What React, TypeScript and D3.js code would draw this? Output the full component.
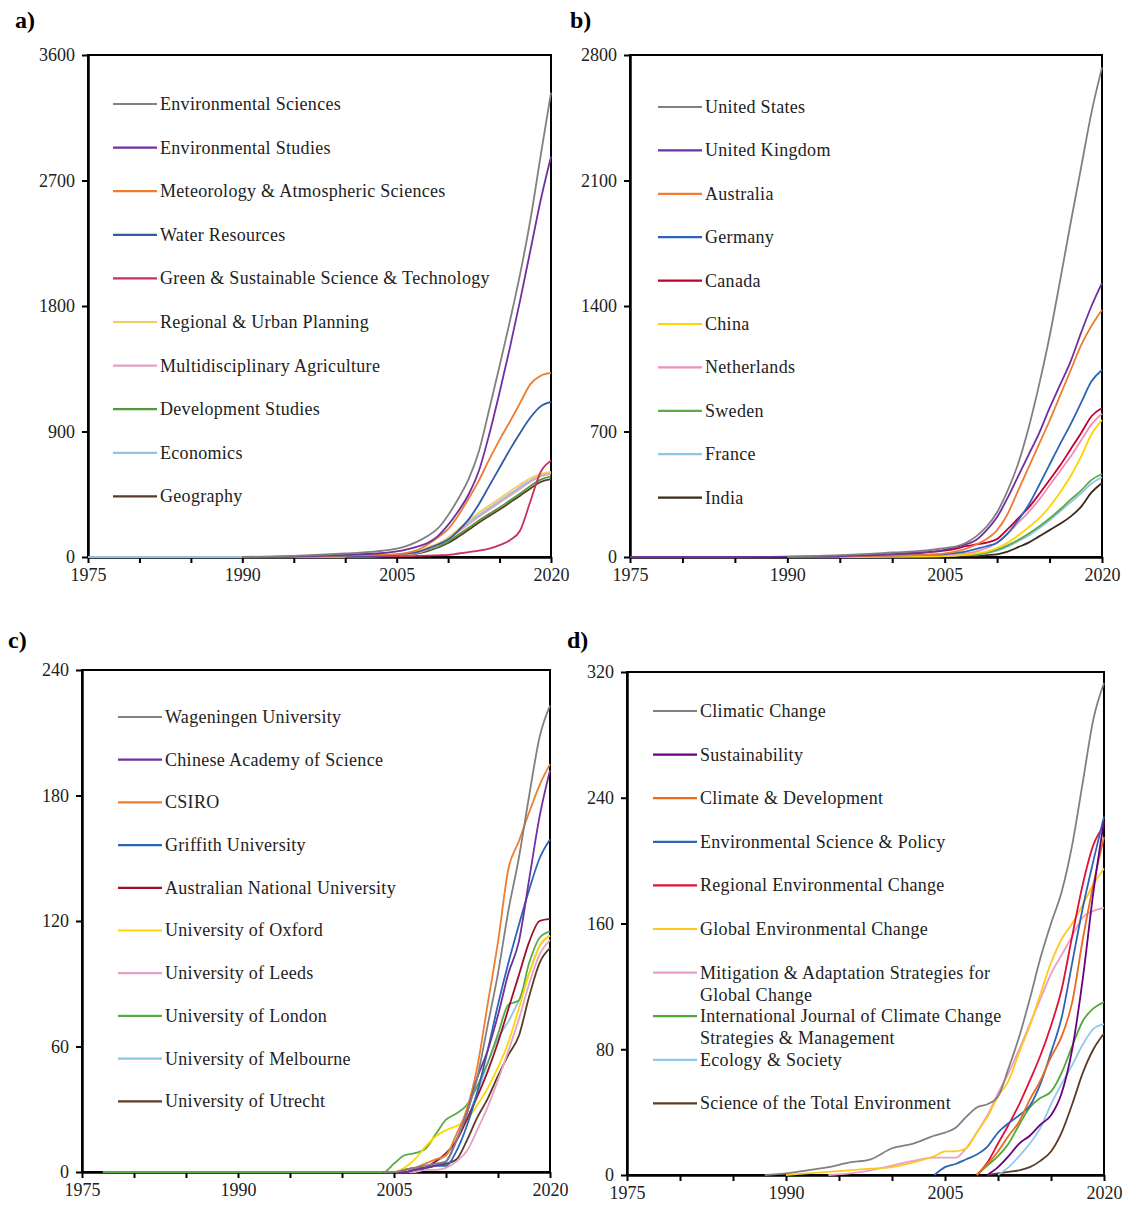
import React, { useEffect, useRef } from "react";
import * as d3 from "d3";

const WIDTH = 1127;
const HEIGHT = 1205;
const FONT = "'Liberation Serif', 'Times New Roman', serif";

// a) subject categories
const yearsA = [1975, 1980, 1985, 1990, 1995, 2000, 2003, 2005, 2006, 2007, 2008, 2009, 2010, 2011, 2012, 2013, 2014, 2015, 2016, 2017, 2018, 2019, 2020];
const namesA = ["Environmental Sciences", "Environmental Studies", "Meteorology & Atmospheric Sciences", "Water Resources", "Green & Sustainable Science & Technology", "Regional & Urban Planning", "Multidisciplinary Agriculture", "Development Studies", "Economics", "Geography"];
const envSciences = [null, null, null, 0, 8, 25, 40, 60, 80, 110, 150, 205, 300, 420, 560, 760, 1060, 1370, 1690, 2030, 2420, 2880, 3330];
const envStudies = [null, null, null, 0, 4, 15, 25, 40, 55, 75, 100, 150, 230, 330, 450, 620, 880, 1180, 1500, 1840, 2200, 2560, 2870];
const meteorology = [null, null, null, 0, 3, 10, 15, 20, 30, 50, 90, 140, 200, 300, 420, 550, 700, 840, 970, 1105, 1240, 1300, 1320];
const waterResources = [null, null, null, 0, 2, 6, 10, 15, 25, 35, 60, 90, 125, 190, 270, 380, 510, 640, 770, 890, 1000, 1080, 1112];
const greenSustainable = [null, null, null, null, null, 0, 2, 4, 6, 8, 10, 12, 15, 25, 35, 45, 60, 85, 120, 190, 400, 610, 690];
const regionalUrban = [null, null, null, null, 0, 3, 6, 10, 20, 40, 70, 95, 140, 200, 260, 320, 370, 420, 470, 520, 565, 595, 610];
const multiAgriculture = [null, null, null, null, 0, 2, 5, 8, 18, 30, 55, 85, 125, 180, 235, 290, 340, 390, 440, 490, 540, 578, 598];
const devStudies = [null, null, null, null, 0, 3, 6, 10, 18, 30, 50, 75, 110, 160, 210, 262, 310, 355, 405, 455, 510, 555, 578];
const economics = [0, 0, 0, 0, 2, 5, 8, 12, 25, 40, 62, 92, 135, 190, 250, 302, 352, 402, 452, 502, 548, 584, 604];
const geography = [null, null, null, null, 0, 2, 5, 8, 15, 25, 42, 68, 100, 145, 195, 248, 295, 340, 390, 440, 492, 538, 558];
const colorsA = ["#808080", "#7030a0", "#ed7d31", "#2e5aa8", "#c8305a", "#f3cd5e", "#e2a2c2", "#4e9a3a", "#92c2e8", "#5b3a26"];

// b) countries
const yearsB = [1975, 1980, 1985, 1990, 1995, 2000, 2003, 2005, 2006, 2007, 2008, 2009, 2010, 2011, 2012, 2013, 2014, 2015, 2016, 2017, 2018, 2019, 2020];
const namesB = ["United States", "United Kingdom", "Australia", "Germany", "Canada", "China", "Netherlands", "Sweden", "France", "India"];
const unitedStates = [null, null, null, 2, 10, 25, 35, 50, 58, 78, 115, 170, 250, 370, 520, 720, 960, 1230, 1540, 1860, 2170, 2480, 2730];
const unitedKingdom = [0, 0, 0, 2, 5, 15, 25, 40, 55, 70, 95, 150, 223, 330, 450, 570, 690, 830, 960, 1090, 1250, 1400, 1528];
const australia = [null, null, null, 0, 3, 8, 12, 20, 30, 45, 70, 100, 150, 240, 370, 500, 630, 760, 900, 1040, 1180, 1290, 1378];
const germany = [null, null, null, 0, 3, 8, 12, 15, 22, 30, 45, 60, 80, 130, 205, 290, 400, 515, 630, 740, 860, 980, 1043];
const canada = [null, null, null, 0, 5, 15, 25, 35, 45, 60, 70, 80, 100, 155, 215, 275, 350, 430, 510, 600, 690, 785, 831];
const china = [null, null, null, null, 0, 2, 3, 5, 8, 12, 20, 30, 50, 80, 120, 165, 215, 280, 360, 450, 560, 685, 764];
const netherlands = [null, null, null, 0, 2, 5, 8, 10, 15, 20, 30, 50, 80, 130, 190, 250, 320, 400, 480, 560, 650, 740, 800];
const sweden = [null, null, null, 0, 2, 3, 4, 5, 8, 12, 15, 25, 40, 65, 95, 130, 170, 215, 265, 320, 370, 430, 463];
const france = [null, null, null, null, 0, 2, 4, 5, 8, 12, 15, 22, 35, 58, 88, 120, 160, 205, 255, 305, 355, 410, 445];
const india = [null, null, null, null, 0, 1, 1, 2, 3, 4, 5, 10, 15, 30, 55, 80, 115, 150, 185, 225, 280, 360, 413];
const colorsB = ["#808080", "#7030a0", "#ed7d31", "#2e64b8", "#c00030", "#ffd200", "#f08cc0", "#5aaa46", "#8cc4ea", "#3c2a1a"];

// c) institutions
const yearsC = [1977, 1990, 2002, 2004, 2005, 2006, 2007, 2008, 2009, 2010, 2011, 2012, 2013, 2014, 2015, 2016, 2017, 2018, 2019, 2020];
const namesC = ["Wageningen University", "Chinese Academy of Science", "CSIRO", "Griffith University", "Australian National University", "University of Oxford", "University of Leeds", "University of London", "University of Melbourne", "University of Utrecht"];
const wageningen = [null, null, null, 0, 0, 1, 2, 3, 4, 5, 15, 28, 45, 70, 95, 125, 150, 180, 208, 223];
const chineseAcademy = [null, null, null, 0, 0, 0, 1, 2, 3, 5, 15, 28, 45, 58, 75, 95, 110, 140, 170, 192];
const csiro = [null, null, null, 0, 0, 1, 2, 4, 6, 8, 18, 30, 50, 80, 110, 145, 158, 172, 185, 195];
const griffith = [null, null, null, 0, 0, 0, 1, 2, 3, 3, 10, 22, 38, 58, 80, 100, 118, 135, 150, 159];
const anu = [null, null, null, 0, 0, 0, 1, 2, 5, 9, 15, 25, 36, 48, 62, 78, 94, 110, 120, 121];
const oxford = [null, null, null, 0, 0, 2, 6, 12, 17, 20, 22, 25, 32, 40, 50, 62, 78, 95, 108, 113];
const leeds = [null, null, null, 0, 0, 0, 0, 1, 1, 2, 5, 10, 20, 31, 44, 58, 73, 90, 104, 111];
const london = [0, 0, 0, 0, 4, 8, 9, 11, 18, 25, 28, 32, 41, 52, 66, 80, 82, 100, 112, 115];
const melbourne = [null, null, 0, 0, 0, 0, 1, 2, 5, 8, 15, 25, 38, 52, 64, 72, 82, 95, 108, 113];
const utrecht = [null, null, null, 0, 0, 1, 2, 2, 3, 4, 6, 15, 26, 35, 46, 56, 65, 84, 100, 107];
const colorsC = ["#808080", "#7030a0", "#ed7d31", "#2e64b8", "#a0102a", "#ffd700", "#e6a2c4", "#5aaa46", "#8cc4ea", "#5b3a26"];

// d) journals
const yearsD = [1988, 1990, 1992, 1994, 1996, 1998, 2000, 2002, 2004, 2005, 2006, 2007, 2008, 2009, 2010, 2011, 2012, 2013, 2014, 2015, 2016, 2017, 2018, 2019, 2020];
const namesD = ["Climatic Change", "Sustainability", "Climate & Development", "Environmental Science & Policy", "Regional Environmental Change", "Global Environmental Change", "Mitigation & Adaptation Strategies for\nGlobal Change", "International Journal of Climate Change\nStrategies & Management", "Ecology & Society", "Science of the Total Environment"];
const climaticChange = [0, 1, 3, 5, 8, 10, 17, 20, 25, 27, 30, 37, 43, 45, 50, 68, 88, 112, 138, 160, 180, 210, 250, 290, 313];
const sustainability = [null, null, null, null, null, null, null, null, null, null, null, null, null, 0, 5, 12, 20, 25, 32, 38, 52, 80, 125, 180, 225];
const climateDevelopment = [null, null, null, null, null, null, null, null, null, null, null, null, 0, 7, 15, 25, 34, 48, 60, 75, 88, 110, 150, 185, 215];
const envSciPolicy = [null, null, null, null, null, null, null, null, 0, 5, 7, 10, 13, 18, 27, 33, 38, 44, 58, 78, 100, 135, 170, 200, 228];
const regionalEnvChange = [null, null, null, null, null, null, null, null, null, null, null, null, 0, 8, 20, 32, 45, 60, 76, 95, 118, 152, 185, 210, 222];
const globalEnvChange = [null, 0, 1, 2, 3, 4, 5, 8, 12, 15, 15, 17, 27, 37, 50, 60, 78, 95, 115, 135, 150, 160, 172, 185, 195];
const mitigationAdaptation = [null, null, null, 0, 1, 3, 6, 9, 11, 11, 11, 17, 27, 38, 52, 65, 80, 96, 112, 128, 140, 152, 164, 168, 170];
const ijccsm = [null, null, null, null, null, null, null, null, null, null, null, null, 0, 6, 12, 20, 32, 43, 49, 53, 65, 82, 98, 106, 110];
const ecologySociety = [null, null, null, null, null, null, null, null, null, null, null, null, null, null, 0, 5, 12, 20, 30, 45, 58, 70, 83, 93, 96];
const scienceTotalEnv = [null, null, null, null, null, null, null, null, null, null, null, null, null, 0, 1, 2, 3, 5, 9, 15, 27, 45, 65, 80, 90];
const colorsD = ["#808080", "#6a0080", "#ed6a1a", "#2e64b8", "#e0103a", "#ffc820", "#e8a0c8", "#4ea83a", "#90c8ea", "#5b3a26"];

const labeledYears = [1975, 1990, 2005, 2020];

const panels = [
  {
    label: "a)", labelX: 15, labelY: 28,
    left: 88, right: 551, top: 55, bottom: 557,
    yTicks: [0, 900, 1800, 2700, 3600],
    years: yearsA, names: namesA, colors: colorsA,
    series: [envSciences, envStudies, meteorology, waterResources, greenSustainable, regionalUrban, multiAgriculture, devStudies, economics, geography],
    legendX: 113, legendY: 104, legendStep: 43.6,
  },
  {
    label: "b)", labelX: 570, labelY: 28,
    left: 630, right: 1102, top: 55, bottom: 557,
    yTicks: [0, 700, 1400, 2100, 2800],
    years: yearsB, names: namesB, colors: colorsB,
    series: [unitedStates, unitedKingdom, australia, germany, canada, china, netherlands, sweden, france, india],
    legendX: 658, legendY: 107, legendStep: 43.4,
  },
  {
    label: "c)", labelX: 8, labelY: 648,
    left: 82, right: 550, top: 670, bottom: 1172,
    yTicks: [0, 60, 120, 180, 240],
    years: yearsC, names: namesC, colors: colorsC,
    series: [wageningen, chineseAcademy, csiro, griffith, anu, oxford, leeds, london, melbourne, utrecht],
    legendX: 118, legendY: 717, legendStep: 42.7,
  },
  {
    label: "d)", labelX: 567, labelY: 648,
    left: 627, right: 1104, top: 672, bottom: 1175,
    yTicks: [0, 80, 160, 240, 320],
    years: yearsD, names: namesD, colors: colorsD,
    series: [climaticChange, sustainability, climateDevelopment, envSciPolicy, regionalEnvChange, globalEnvChange, mitigationAdaptation, ijccsm, ecologySociety, scienceTotalEnv],
    legendX: 653, legendY: 711, legendStep: 43.6,
  },
];

function drawPanel(svg, p) {
  const x = d3.scaleLinear().domain([1975, 2020]).range([p.left, p.right]);
  const y = d3
    .scaleLinear()
    .domain([0, p.yTicks[p.yTicks.length - 1]])
    .range([p.bottom, p.top]);

  const g = svg.append("g").attr("font-family", FONT);

  const line = d3
    .line<number | null>()
    .defined((d) => d != null)
    .x((_, i) => x(p.years[i]))
    .y((d) => y(d as number))
    .curve(d3.curveMonotoneX);

  // frame
  g.append("rect")
    .attr("x", p.left)
    .attr("y", p.top)
    .attr("width", p.right - p.left)
    .attr("height", p.bottom - p.top)
    .attr("fill", "none")
    .attr("stroke", "#000")
    .attr("stroke-width", 2);

  const xAxis = d3
    .axisBottom(x)
    .tickValues(d3.range(1975, 2021, 5))
    .tickSize(6)
    .tickSizeOuter(0)
    .tickPadding(5)
    .tickFormat((d) => (labeledYears.includes(+d) ? String(d) : ""));

  g.append("g")
    .attr("transform", `translate(0, ${p.bottom})`)
    .call(xAxis)
    .call((n) => n.select(".domain").attr("stroke-width", 2.5))
    .call((n) => n.selectAll(".tick line").attr("stroke-width", 2))
    .call((n) =>
      n.selectAll("text").attr("font-family", FONT).attr("font-size", 18).attr("fill", "#222")
    );

  const yAxis = d3
    .axisLeft(y)
    .tickValues(p.yTicks)
    .tickSize(6)
    .tickSizeOuter(0)
    .tickPadding(7)
    .tickFormat((d) => String(d));

  g.append("g")
    .attr("transform", `translate(${p.left}, 0)`)
    .call(yAxis)
    .call((n) => n.select(".domain").attr("stroke-width", 2.5))
    .call((n) => n.selectAll(".tick line").attr("stroke-width", 2))
    .call((n) =>
      n.selectAll("text").attr("font-family", FONT).attr("font-size", 18).attr("fill", "#222")
    );

  // series drawn above the axes so the zero runs show along the baseline
  g.selectAll(".series")
    .data(p.series.slice().reverse())
    .enter()
    .append("path")
    .attr("class", "series")
    .attr("fill", "none")
    .attr("stroke", (_, i) => p.colors[p.series.length - 1 - i])
    .attr("stroke-width", 1.8)
    .attr("stroke-linejoin", "round")
    .attr("d", (d) => line(d));

  // legend
  const rows = g
    .selectAll(".legend")
    .data(p.names)
    .enter()
    .append("g")
    .attr("class", "legend")
    .attr("transform", (_, i) => `translate(${p.legendX}, ${p.legendY + i * p.legendStep})`);

  rows
    .append("line")
    .attr("x1", 0)
    .attr("x2", 44)
    .attr("stroke", (_, i) => p.colors[i])
    .attr("stroke-width", 2.2);

  rows
    .append("text")
    .attr("x", 47)
    .attr("font-size", 18)
    .attr("letter-spacing", 0.3)
    .attr("fill", "#222")
    .each(function (d) {
      const parts = d.split("\n");
      const t = d3.select(this);
      parts.forEach((s, k) => {
        t.append("tspan").attr("x", 47).attr("y", k * 22).attr("dy", "0.33em").text(s);
      });
    });

  g.append("text")
    .attr("x", p.labelX)
    .attr("y", p.labelY)
    .attr("font-size", 24)
    .attr("font-weight", "bold")
    .text(p.label);
}

export default function App() {
  const ref = useRef<SVGSVGElement>(null);

  useEffect(() => {
    const svg = d3.select(ref.current);
    svg.selectAll("*").remove();
    panels.forEach((p) => drawPanel(svg, p));
  }, []);

  return (
    <svg
      ref={ref}
      width={WIDTH}
      height={HEIGHT}
      style={{ position: "absolute", left: 0, top: 0, background: "#fff" }}
    />
  );
}
